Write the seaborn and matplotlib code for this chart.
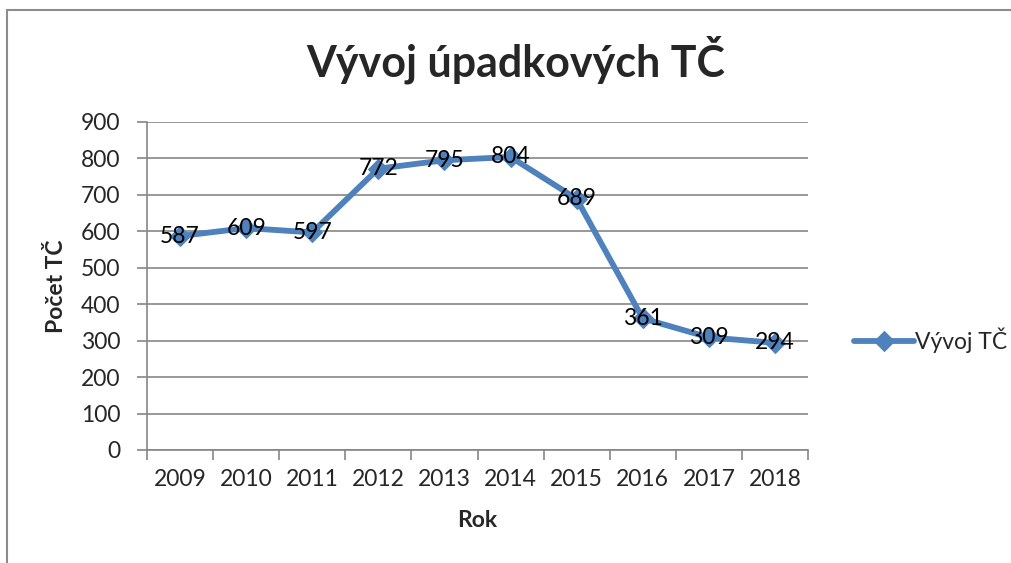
import matplotlib
matplotlib.use("Agg")
import matplotlib.pyplot as plt
from matplotlib.lines import Line2D
import pandas as pd
import seaborn as sns

years = [2009, 2010, 2011, 2012, 2013, 2014, 2015, 2016, 2017, 2018]
counts = [587, 609, 597, 772, 795, 804, 689, 361, 309, 294]
series_name = "Vývoj TČ"
title = "Vývoj úpadkových TČ"

sns.set_theme(style="white")
plt.rcParams["font.family"] = ["Lato", "DejaVu Sans"]

W, H = 1012, 563
fig = plt.figure(figsize=(W / 100, H / 100), dpi=100)
left, right, top, bottom = 147, 808, 122, 450
ax = fig.add_axes([left / W, 1 - bottom / H, (right - left) / W, (bottom - top) / H])

df = pd.DataFrame({"Rok": years, "Počet TČ": counts})
line_color = "#4F81BD"
sns.lineplot(data=df, x="Rok", y="Počet TČ", ax=ax, color=line_color, linewidth=4.2,
             marker="D", markersize=10, markeredgecolor=line_color, label=series_name)

fs = 16.5
for x, y in zip(years, counts):
    ax.text(x, y, str(y), ha="center", va="center", fontsize=fs, color="black")

ax.set_xlim(years[0] - 0.5, years[-1] + 0.5)
ax.set_ylim(0, 900)
ax.set_yticks(range(0, 901, 100))
ax.set_xticks(years)
ax.set_xticklabels([str(y) for y in years], fontsize=fs)
ax.set_xticks([y - 0.5 for y in years] + [years[-1] + 0.5], minor=True)
ax.tick_params(axis="x", which="major", length=0, pad=14)
ax.tick_params(axis="x", which="minor", length=7, color="#868686", width=1.2, bottom=True)
ax.tick_params(axis="y", length=7, color="#868686", width=1.2, left=True, labelsize=fs, pad=12)
ax.grid(axis="y", color="#868686", linewidth=1.2)
ax.set_axisbelow(True)
for side in ["top", "right"]:
    ax.spines[side].set_visible(False)
for side in ["left", "bottom"]:
    ax.spines[side].set_color("#868686")
    ax.spines[side].set_linewidth(1.2)

ax.set_xlabel("Rok", fontsize=fs, fontweight="bold", labelpad=14)
ax.set_ylabel("Počet TČ", fontsize=fs, fontweight="bold", labelpad=10)
fig.text(516 / W, 1 - 60 / H, title, ha="center", va="center", fontsize=31, fontweight="bold")

ax.legend(loc="center left", bbox_to_anchor=(845 / W, 1 - 340 / H), bbox_transform=fig.transFigure,
          frameon=False, fontsize=fs, handlelength=2.6, handletextpad=0.05, borderaxespad=0)

fig.add_artist(Line2D([7 / W, 1], [1 - 10 / H, 1 - 10 / H], transform=fig.transFigure, color="#8c8c8c", linewidth=1.5))
fig.add_artist(Line2D([7 / W, 7 / W], [0, 1 - 10 / H], transform=fig.transFigure, color="#8c8c8c", linewidth=1.5))

fig.savefig("out.png", dpi=100)
